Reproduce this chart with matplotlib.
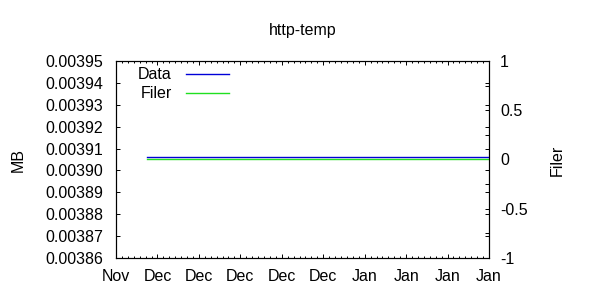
import matplotlib
matplotlib.use('Agg')
import matplotlib.pyplot as plt
import matplotlib.dates as mdates
import matplotlib.ticker as mticker
import pandas as pd

plt.rcParams['font.family'] = ['Liberation Sans', 'DejaVu Sans']

title = "http-temp"
dates = ["2008-11-29 04:00", "2009-01-26 00:00"]
data_mb = [0.003906, 0.003906]
filer = [0, 0]
x_range = ["2008-11-24", "2009-01-26"]
y1_ticks = [0.00386, 0.00387, 0.00388, 0.00389, 0.00390,
            0.00391, 0.00392, 0.00393, 0.00394, 0.00395]
y2_ticks = [-1, -0.5, 0, 0.5, 1]
y2_labels = ["-1", "-0.5", "0", "0.5", "1"]
series_names = ["Data", "Filer"]
ylabel_left = "MB"
ylabel_right = "Filer"

FS = 11.5
x = pd.to_datetime(dates)

fig = plt.figure(figsize=(6, 3), dpi=100)
ax = fig.add_axes([116/600, 42/300, 373/600, 197/300])
ax2 = ax.twinx()

l1, = ax.plot(x, data_mb, color='#0000d8', lw=1.0, label=series_names[0])
l2, = ax2.plot(x, filer, color='#20e020', lw=1.0, label=series_names[1])

ax.set_xlim(pd.to_datetime(x_range[0]), pd.to_datetime(x_range[1]))
ax.set_ylim(y1_ticks[0], y1_ticks[-1])
ax2.set_ylim(y2_ticks[0], y2_ticks[-1])

ax.xaxis.set_major_locator(mdates.WeekdayLocator(byweekday=mdates.MO))
ax.xaxis.set_minor_locator(mdates.DayLocator())
ax.xaxis.set_major_formatter(mdates.DateFormatter('%b'))

ax.set_yticks(y1_ticks)
ax.yaxis.set_major_formatter(mticker.FormatStrFormatter('%.5f'))
ax2.set_yticks(y2_ticks)
ax2.set_yticklabels(y2_labels)
ax2.yaxis.set_minor_locator(mticker.FixedLocator([-0.75, -0.25, 0.25, 0.75]))

ax.tick_params(axis='x', which='major', direction='in', length=2.8, width=0.7,
               top=True, labelsize=FS, pad=8)
ax.tick_params(axis='x', which='minor', direction='in', length=1.4, width=0.7, top=True)
ax.tick_params(axis='y', which='major', direction='in', length=2.6, width=0.7,
               left=True, right=True, labelsize=FS, pad=9)
ax2.tick_params(axis='y', which='major', direction='in', length=2.6, width=0.7,
                labelsize=FS, pad=8)
ax2.tick_params(axis='y', which='minor', direction='in', length=2.6, width=0.7)

for a in (ax, ax2):
    for s in a.spines.values():
        s.set_linewidth(0.8)

ax.set_title(title, fontsize=FS, pad=19)
fig.text(18/600, 1 - 160/300, ylabel_left, rotation=90, ha='center', va='center', fontsize=FS)
fig.text(557/600, 1 - 160/300, ylabel_right, rotation=90, ha='center', va='center', fontsize=FS)

leg = ax.legend([l1, l2], series_names, loc='upper left', frameon=False,
                markerfirst=False, fontsize=FS, handlelength=2.7,
                handletextpad=0.9, labelspacing=0.25,
                bbox_to_anchor=(0.042, 1.0), borderaxespad=0.0)

fig.savefig('out.png', dpi=100)
